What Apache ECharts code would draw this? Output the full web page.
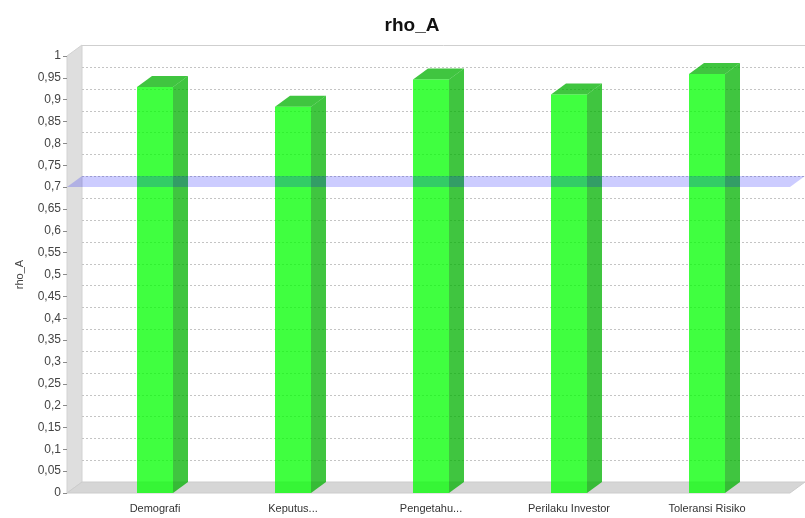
<!DOCTYPE html>
<html>
<head>
<meta charset="utf-8">
<script src="https://cdn.jsdelivr.net/npm/echarts@6/dist/echarts.min.js"></script>
<style>
  html, body { margin: 0; padding: 0; background: #ffffff; }
  #chart { width: 805px; height: 518px; }
</style>
</head>
<body>
<div id="chart"></div>
<script>
// Composite reliability (rho_A) per construct
const categories = ['Demografi', 'Keputus...', 'Pengetahu...', 'Perilaku Investor', 'Toleransi Risiko'];
const rhoA = [0.929, 0.884, 0.946, 0.912, 0.959];
// Reference threshold drawn as a band across the plot
const thresholds = [0.7];
// Value-axis range and step
const yMin = 0;
const yMax = 1;
const yStep = 0.05;

// 3D depth of walls and bars (px)
const DX = 15;
const DY = -11;
const BAR_W = 36;
const FONT = "'Liberation Sans', Arial, sans-serif";

const chart = echarts.init(document.getElementById('chart'), null, { renderer: 'canvas' });

const fmt = v => String(+v.toFixed(2)).replace('.', ',');

// Walls, floor and dotted gridlines on the back wall
function renderFrame(params, api) {
  const p0 = api.coord([0, yMin]);
  const p1 = api.coord([1, yMax]);
  const x0 = p0[0], y0 = p0[1], x1 = p1[0], y1 = p1[1];
  const children = [
    { type: 'rect', shape: { x: x0 + DX, y: y1 + DY, width: x1 - x0, height: y0 - y1 },
      style: { fill: '#ffffff' } },
    { type: 'line', shape: { x1: x0 + DX, y1: Math.round(y1 + DY) + 0.5, x2: x1 + DX, y2: Math.round(y1 + DY) + 0.5 },
      style: { stroke: '#cfcfcf', lineWidth: 1 } },
    { type: 'polygon', shape: { points: [[x0, y0], [x0, y1], [x0 + DX, y1 + DY], [x0 + DX, y0 + DY]] },
      style: { fill: '#dedede', stroke: '#d2d2d2', lineWidth: 1 } },
    { type: 'polygon', shape: { points: [[x0, y0], [x0 + DX, y0 + DY], [x1 + DX, y0 + DY], [x1, y0]] },
      style: { fill: '#d6d6d6', stroke: '#cccccc', lineWidth: 1 } }
  ];
  const n = Math.round((yMax - yMin) / yStep);
  for (let i = 1; i < n; i++) {
    const y = api.coord([0, yMin + i * yStep])[1] + DY;
    children.push({
      type: 'line',
      shape: { x1: x0 + DX, y1: Math.round(y) + 0.5, x2: x1 + DX, y2: Math.round(y) + 0.5 },
      style: { stroke: '#c4c4c4', lineWidth: 1, lineDash: [2, 2] }
    });
  }
  return { type: 'group', children };
}

// 3D bar: front face, right side and top
function renderBar(params, api) {
  const top = api.coord([api.value(0), api.value(1)]);
  const base = api.coord([api.value(0), yMin]);
  const xL = top[0] - BAR_W / 2, xR = top[0] + BAR_W / 2;
  const yT = top[1], yB = base[1];
  const side = 'rgba(0,178,0,0.75)';
  return {
    type: 'group',
    children: [
      { type: 'polygon', shape: { points: [[xR, yT], [xR + DX, yT + DY], [xR + DX, yB + DY], [xR, yB]] },
        style: { fill: side } },
      { type: 'polygon', shape: { points: [[xL, yT], [xL + DX, yT + DY], [xR + DX, yT + DY], [xR, yT]] },
        style: { fill: side } },
      { type: 'rect', shape: { x: xL, y: yT, width: BAR_W, height: yB - yT },
        style: { fill: 'rgba(0,255,0,0.75)' } }
    ]
  };
}

// Threshold band spanning front to back
function renderBand(params, api) {
  const v = api.value(1);
  const a = api.coord([0, v]);
  const b = api.coord([1, v]);
  return {
    type: 'polygon',
    shape: { points: [[a[0], a[1]], [a[0] + DX, a[1] + DY], [b[0] + DX, b[1] + DY], [b[0], b[1]]] },
    style: { fill: 'rgba(0,0,255,0.2)' }
  };
}

const option = {
  backgroundColor: '#ffffff',
  animation: false,
  textStyle: { fontFamily: FONT },
  title: {
    text: 'rho_A',
    left: 407,
    top: 11,
    textAlign: 'center',
    textStyle: { fontFamily: FONT, fontSize: 19, fontWeight: 'bold', color: '#111111' }
  },
  grid: [
    { left: 67, right: 15, top: 56, bottom: 25 },
    { left: 86, right: 29, top: 56, bottom: 25 }
  ],
  xAxis: [
    { gridIndex: 0, type: 'value', min: 0, max: 1, show: false },
    {
      gridIndex: 1, type: 'category', data: categories,
      axisLine: { show: false }, axisTick: { show: false },
      axisLabel: { interval: 0, margin: 10, fontSize: 11, color: '#333333', fontFamily: FONT }
    }
  ],
  yAxis: [
    {
      gridIndex: 0, type: 'value', min: yMin, max: yMax, interval: yStep,
      axisLine: { show: false },
      axisTick: { show: true, length: 4, lineStyle: { color: '#8a8a8a' } },
      axisLabel: { margin: 6, fontSize: 12, color: '#444444', fontFamily: FONT, formatter: fmt },
      splitLine: { show: false },
      name: 'rho_A', nameLocation: 'middle', nameGap: 42,
      nameTextStyle: { fontSize: 11, color: '#444444', fontFamily: FONT }
    },
    { gridIndex: 1, type: 'value', min: yMin, max: yMax, show: false }
  ],
  series: [
    {
      type: 'custom', name: 'frame', xAxisIndex: 0, yAxisIndex: 0, clip: false, silent: true, z: 0,
      renderItem: renderFrame, data: [[0, yMin]]
    },
    {
      type: 'custom', name: 'rho_A', xAxisIndex: 1, yAxisIndex: 1, clip: false, z: 2,
      renderItem: renderBar, encode: { x: 0, y: 1 },
      data: rhoA.map((v, i) => [i, v])
    },
    {
      type: 'custom', name: 'threshold', xAxisIndex: 0, yAxisIndex: 0, clip: false, silent: true, z: 3,
      renderItem: renderBand, data: thresholds.map(v => [0, v])
    }
  ]
};

chart.setOption(option);
</script>
</body>
</html>
